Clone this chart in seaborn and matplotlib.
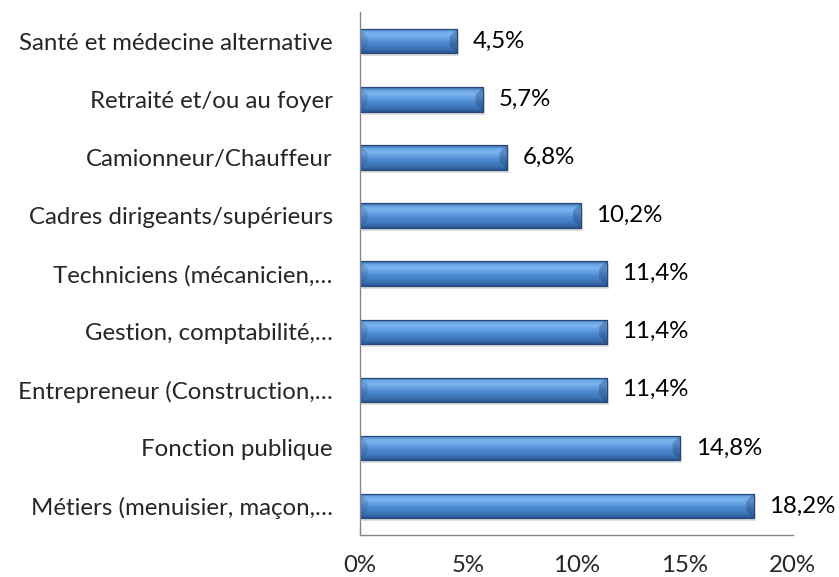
import numpy as np
import pandas as pd
import matplotlib
matplotlib.use("Agg")
import matplotlib.pyplot as plt
import matplotlib.transforms as mtransforms
from matplotlib.colors import to_rgb
from matplotlib.ticker import FuncFormatter
import seaborn as sns

# data (top to bottom)
categories = [
    "Santé et médecine alternative",
    "Retraité et/ou au foyer",
    "Camionneur/Chauffeur",
    "Cadres dirigeants/supérieurs",
    "Techniciens (mécanicien,…",
    "Gestion, comptabilité,…",
    "Entrepreneur (Construction,…",
    "Fonction publique",
    "Métiers (menuisier, maçon,…",
]
percentages = [4.5, 5.7, 6.8, 10.2, 11.4, 11.4, 11.4, 14.8, 18.2]
x_ticks = [0, 5, 10, 15, 20]

df = pd.DataFrame({"category": categories, "pct": percentages})

sns.set_style("white")
plt.rcParams["font.family"] = ["Lato", "DejaVu Sans"]
fs = 17.3

fig = plt.figure(figsize=(8.39, 5.77), dpi=100)
ax = fig.add_axes([0.429, 0.0728, 0.516, 0.906])

sns.barplot(data=df, x="pct", y="category", orient="h", ax=ax,
            color="#4a86cc", width=0.42, edgecolor="#24487a", linewidth=0.8)

# vertical gradient for the bevelled look (top -> bottom)
stops = ["#34639f", "#6ea8e8", "#7cb4f0", "#62a0e4", "#4f8bd0", "#4580c6", "#3b70b2", "#2a5590"]
grad = np.array([to_rgb(c) for c in stops])
n = 60
pos = np.linspace(0, 1, len(stops))
rows = np.stack([np.interp(np.linspace(0, 1, n), pos, grad[:, k]) for k in range(3)], axis=1)
img = rows[:, None, :]

shadow_tr = mtransforms.offset_copy(ax.transData, fig=fig, x=2, y=-3, units="dots")
for p in list(ax.patches):
    x0, y0, w, h = p.get_x(), p.get_y(), p.get_width(), p.get_height()
    z = p.get_zorder()
    ax.add_patch(plt.Rectangle((x0, y0), w, h, transform=shadow_tr, color="#c8c8c8",
                               alpha=0.6, zorder=z - 0.5, linewidth=0))
    im = ax.imshow(img, extent=(x0, x0 + w, y0, y0 + h), origin="lower",
                   aspect="auto", zorder=z + 0.1, interpolation="bilinear")
    im.set_clip_path(p)
    # bevel facets at both ends
    d = 0.35
    ax.add_patch(plt.Polygon([(x0 + w - d, y0 + h * 0.3), (x0 + w, y0), (x0 + w, y0 + h),
                              (x0 + w - d, y0 + h * 0.7)], closed=True,
                             color="#1f3f6e", alpha=0.35, zorder=z + 0.2, linewidth=0))
    ax.add_patch(plt.Polygon([(x0 + d, y0 + h * 0.3), (x0, y0), (x0, y0 + h),
                              (x0 + d, y0 + h * 0.7)], closed=True,
                             color="#1f3f6e", alpha=0.2, zorder=z + 0.2, linewidth=0))
    ax.add_patch(plt.Rectangle((x0, y0), w, h, fill=False, edgecolor="#24487a",
                               linewidth=0.8, zorder=z + 0.3))

ax.set_xlim(0, 20)
ax.set_ylim(len(categories) - 0.5, -0.5)

# value labels
for i, v in enumerate(percentages):
    ax.annotate(f"{v:.1f}%".replace(".", ","), (v, i), xytext=(11, 0),
                textcoords="offset points", va="center", ha="left",
                fontsize=fs, color="black")

ax.set_xticks(x_ticks)
ax.xaxis.set_major_formatter(FuncFormatter(lambda v, _: f"{v:.0f}%"))
ax.set_yticks(range(len(categories)))
ax.set_yticklabels(categories, fontsize=fs)
ax.set_yticks(np.arange(-0.5, len(categories), 1), minor=True)
ax.tick_params(axis="y", which="major", length=0, pad=19.5)
ax.tick_params(axis="y", which="minor", length=4.5, width=1, color="#868686", direction="out")
ax.tick_params(axis="x", length=4.5, width=1, color="#868686", direction="out", pad=10,
               labelsize=fs)
ax.set_xlabel("")
ax.set_ylabel("")

for side in ["top", "right"]:
    ax.spines[side].set_visible(False)
for side in ["left", "bottom"]:
    ax.spines[side].set_color("#868686")
    ax.spines[side].set_linewidth(1)

fig.savefig("out.png", dpi=100)
